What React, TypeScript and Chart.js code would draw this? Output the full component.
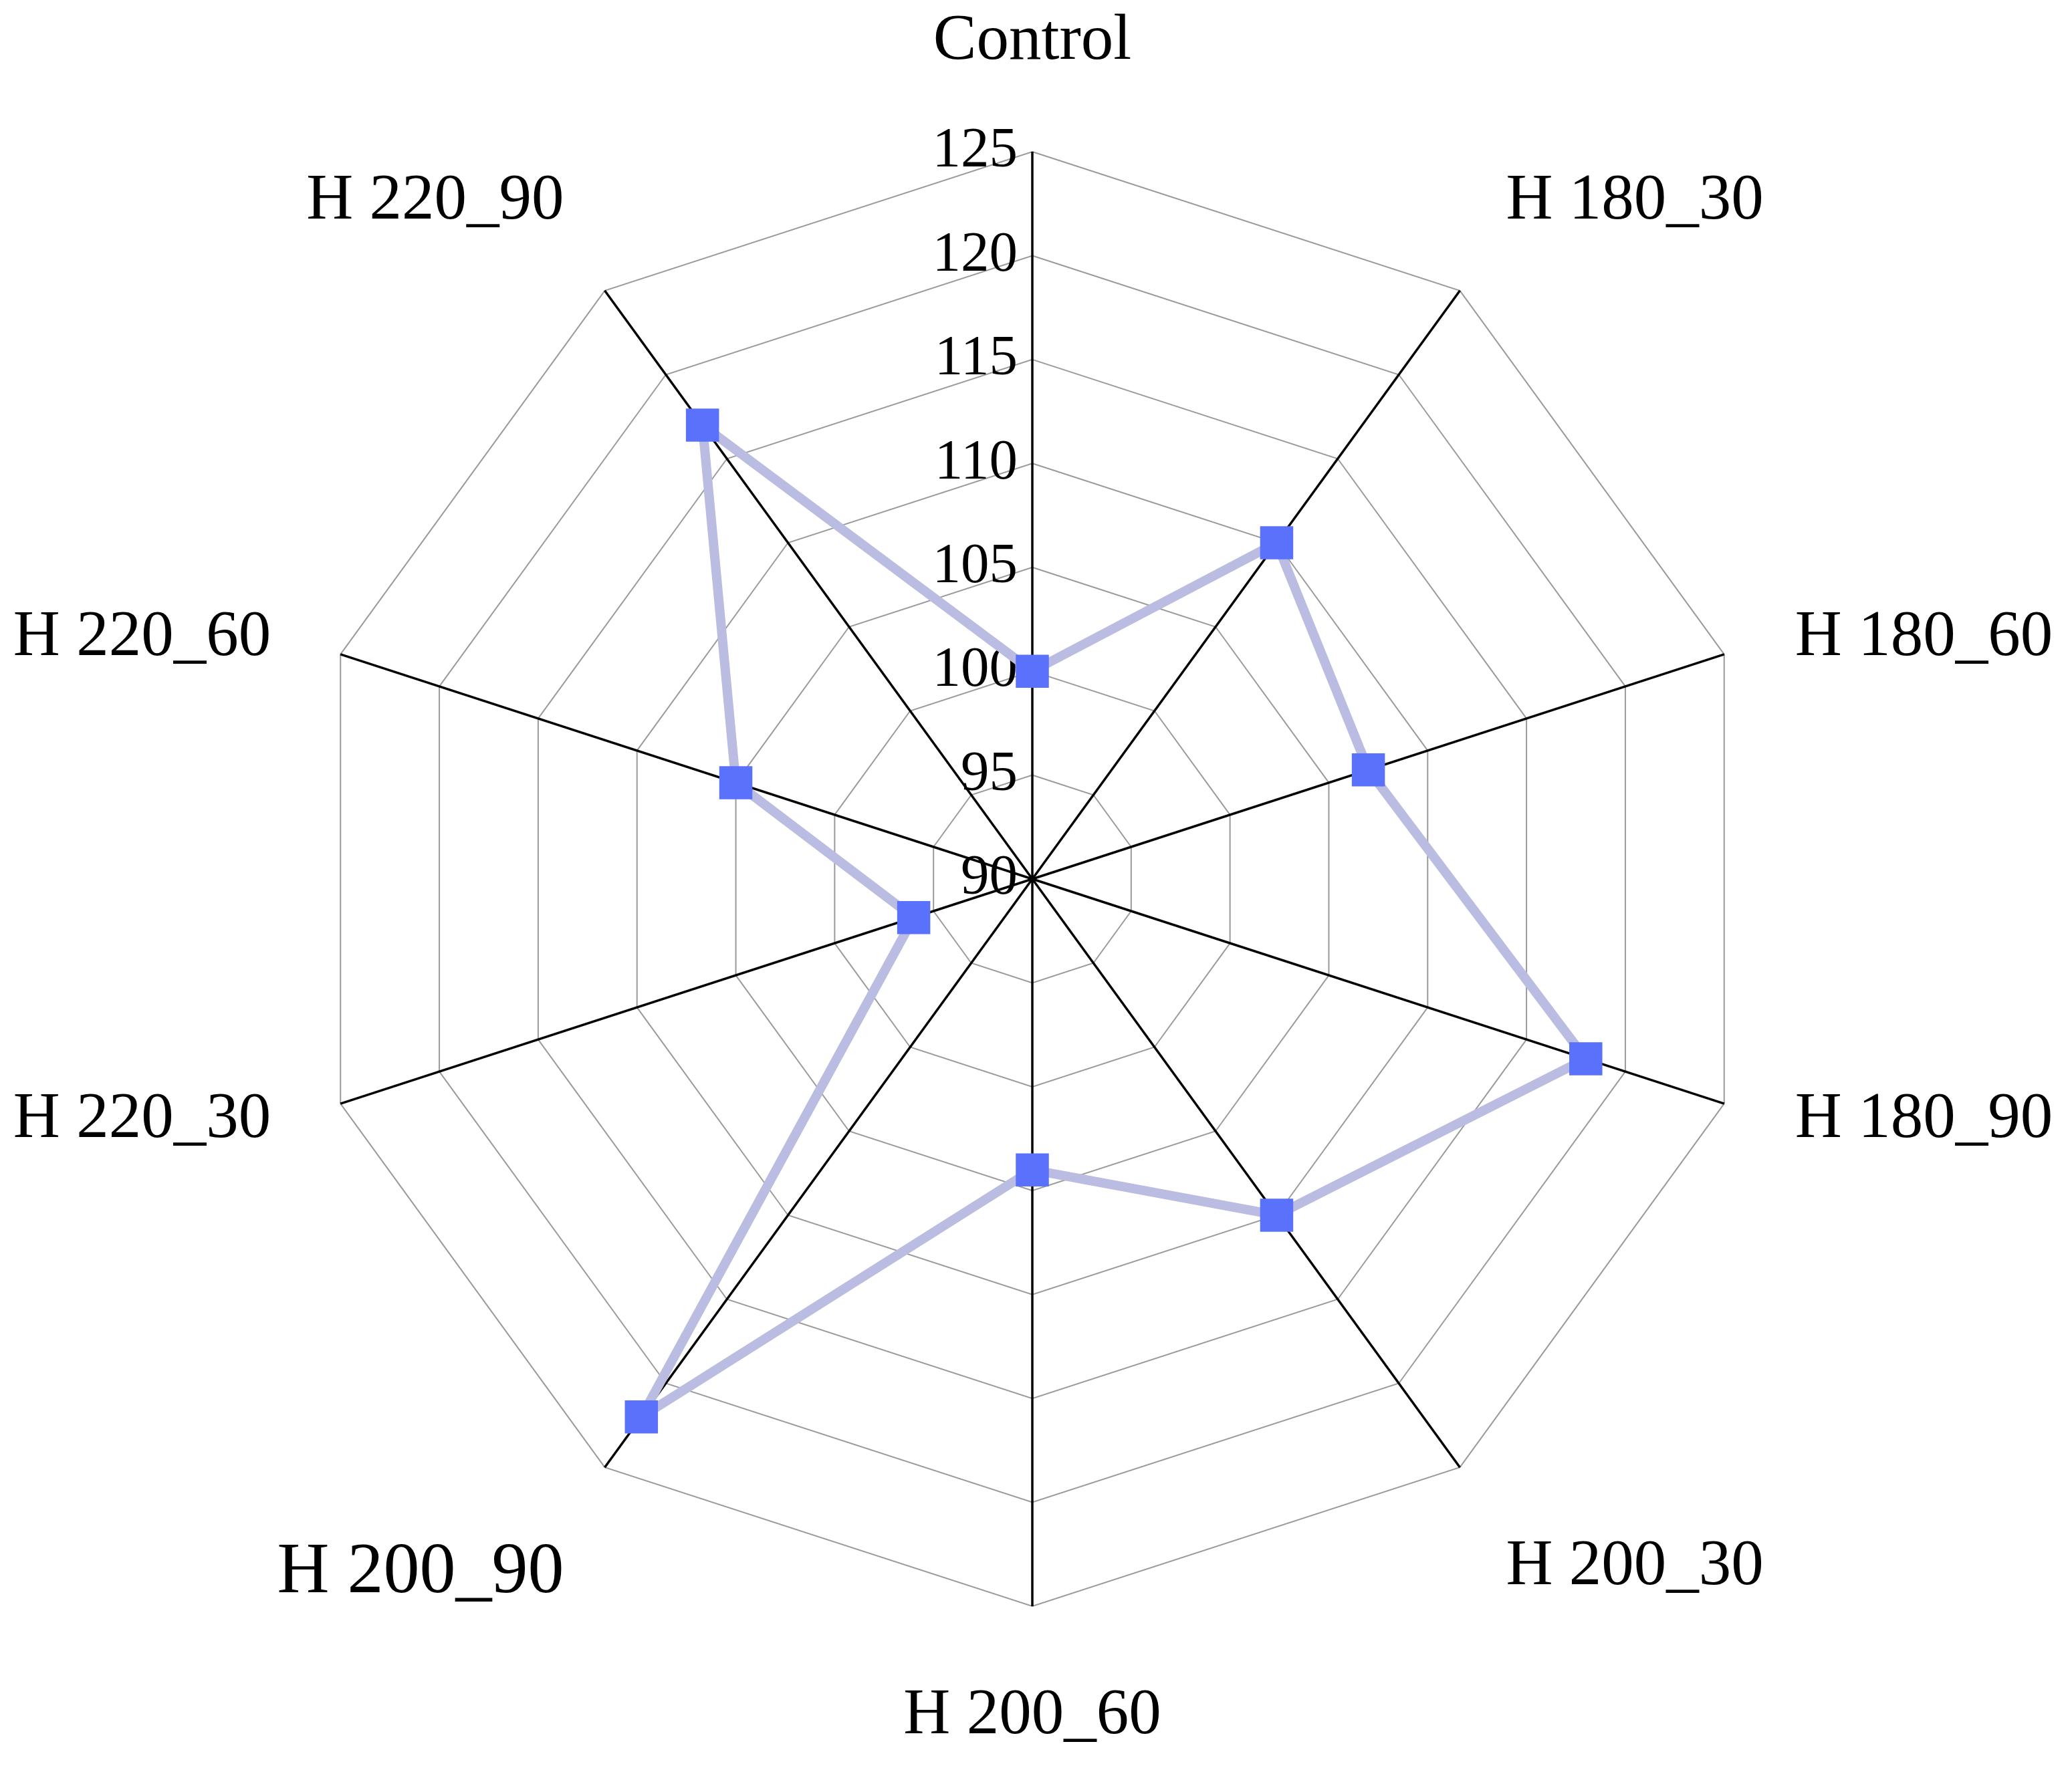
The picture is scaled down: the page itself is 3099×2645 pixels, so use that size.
import React, { useRef, useEffect } from 'react';
import { Chart, registerables } from 'chart.js';

Chart.register(...registerables);

const categories = [
    'Control',
    'H 180_30',
    'H 180_60',
    'H 180_90',
    'H 200_30',
    'H 200_60',
    'H 200_90',
    'H 220_30',
    'H 220_60',
    'H 220_90',
];
const values = [100, 110, 107, 118, 110, 104, 122, 96, 105, 117];
const tickValues = [90, 95, 100, 105, 110, 115, 120, 125];

const SERIF = '"Liberation Serif", "Times New Roman", serif';

// draws tick labels left of the vertical spoke and the category labels round the web
const radarText = {
    id: 'radarText',
    beforeDatasetsDraw(chart: any) {
        const scale = chart.scales.r;
        const ctx = chart.ctx;
        ctx.save();
        ctx.fillStyle = '#000';
        ctx.textBaseline = 'middle';

        ctx.font = `85px ${SERIF}`;
        ctx.textAlign = 'right';
        scale.ticks.forEach((t: any) => {
            const d = scale.getDistanceFromCenterForValue(t.value);
            ctx.fillText(String(t.label), scale.xCenter - 22, scale.yCenter - d);
        });

        const labels = chart.data.labels as string[];
        labels.forEach((label, i) => {
            const size = i === 6 ? 108 : 97;
            const angle = scale.getIndexAngle(i);
            const s = Math.sin(angle);
            const c = Math.cos(angle);
            const pos = scale.getPointPosition(i, scale.drawingArea + 80);
            let x = pos.x;
            let y = pos.y;
            if (s > 0.1) {
                ctx.textAlign = 'left';
                x += s > 0.8 ? 30 : 22;
            } else if (s < -0.1) {
                ctx.textAlign = 'right';
                x -= s < -0.8 ? 28 : 14;
            } else {
                ctx.textAlign = 'center';
            }
            if (c > 0.5) y -= size * 0.87 * c;
            else if (c < -0.5) y += size * 0.87;
            ctx.font = `${size}px ${SERIF}`;
            ctx.fillText(label, x, y);
        });
        ctx.restore();
    },
};

const RadarChart = () => {
    const chartRef = useRef<HTMLCanvasElement>(null);
    const chartInstance = useRef<Chart | null>(null);

    useEffect(() => {
        const ctx = chartRef.current?.getContext('2d');
        if (!ctx) return;
        if (chartInstance.current) chartInstance.current.destroy();

        chartInstance.current = new Chart(ctx, {
            type: 'radar',
            data: {
                labels: categories,
                datasets: [
                    {
                        data: values,
                        borderColor: '#babce1',
                        borderWidth: 14,
                        backgroundColor: 'transparent',
                        fill: false,
                        pointStyle: 'rect',
                        pointRadius: 35,
                        pointHoverRadius: 35,
                        pointBorderWidth: 0,
                        pointBackgroundColor: '#5a71fb',
                        pointBorderColor: '#5a71fb',
                    },
                ],
            },
            options: {
                animation: false,
                responsive: true,
                maintainAspectRatio: false,
                layout: { padding: { top: 227, bottom: 242, left: 456, right: 467 } },
                plugins: {
                    legend: { display: false },
                    tooltip: { enabled: false },
                },
                scales: {
                    r: {
                        min: tickValues[0],
                        max: tickValues[tickValues.length - 1],
                        afterBuildTicks: (scale: any) => {
                            scale.ticks = tickValues.map((v) => ({ value: v }));
                        },
                        ticks: { display: false, stepSize: 5 },
                        grid: { color: '#9a9a9a', lineWidth: 2 },
                        angleLines: { color: '#000', lineWidth: 3.5 },
                        pointLabels: { display: false },
                    },
                },
            },
            plugins: [radarText],
        });

        return () => {
            if (chartInstance.current) {
                chartInstance.current.destroy();
                chartInstance.current = null;
            }
        };
    }, []);

    return <canvas ref={chartRef}></canvas>;
};

export default function App() {
    return (
        <div style={{ position: 'absolute', left: 0, top: 0, width: '100vw', height: '100vh', background: '#fff' }}>
            <RadarChart />
        </div>
    );
}
